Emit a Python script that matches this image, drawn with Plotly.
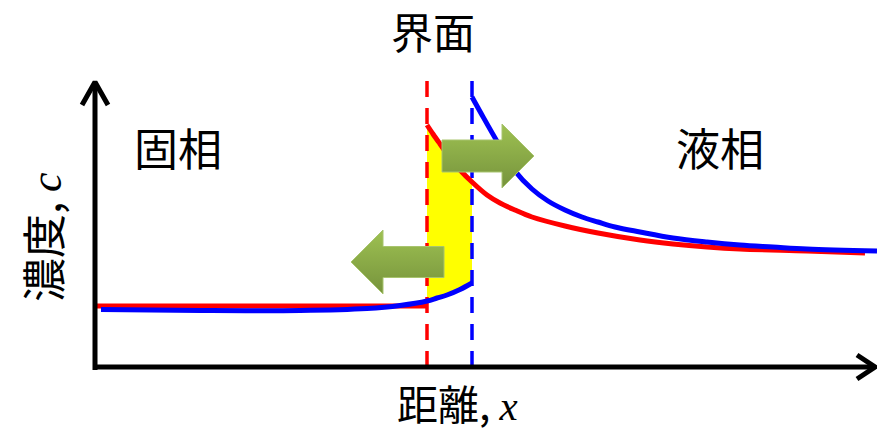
import plotly.graph_objects as go

# distance (x) and concentration (c), arbitrary units; origin = axis corner
red_solid_x = [2, 150, 332]
red_solid_c = [61, 61, 61]

red_liquid_x = [332, 338, 345, 355, 365, 377, 392, 405, 420, 437, 470, 503, 545, 578, 612, 645, 712, 770]
red_liquid_c = [242, 233, 223, 209, 197, 185, 172, 164, 157, 150, 141, 134, 127, 123, 120, 118, 116, 114]

blue_solid_x = [6, 105, 205, 272, 305, 332, 342, 352, 365, 377]
blue_solid_c = [57.5, 56.5, 56.5, 58.5, 61.5, 66, 69, 72, 77.5, 84]

blue_liquid_x = [377, 387, 403, 420, 437, 453, 470, 487, 503, 520, 545, 578, 612, 645, 678, 712, 782]
blue_liquid_c = [270, 252, 224, 196, 178, 166, 157, 150, 145, 140, 135, 129, 125, 122, 120, 118, 116]

red_interface_x = 332
blue_interface_x = 377

X_MAX = 780
C_MAX = 285
DASH_TOP = 287

RED = "#FF0000"
BLUE = "#0000FF"
CJK = "Noto Sans CJK JP"


def block_arrow(x_tail, x_tip, c_mid, body_h, head_h, head_len):
    # outline of a fat horizontal arrow; works for both directions
    s = 1 if x_tip > x_tail else -1
    x_neck = x_tip - s * head_len
    xs = [x_tail, x_neck, x_neck, x_tip, x_neck, x_neck, x_tail, x_tail]
    cs = [c_mid + body_h / 2, c_mid + body_h / 2, c_mid + head_h / 2, c_mid,
          c_mid - head_h / 2, c_mid - body_h / 2, c_mid - body_h / 2, c_mid + body_h / 2]
    return xs, cs


fig = go.Figure()

# yellow area between the two curves inside the interface band
top = [(x, c) for x, c in zip(red_liquid_x, red_liquid_c) if x <= blue_interface_x]
bot = [(x, c) for x, c in zip(blue_solid_x, blue_solid_c) if x >= red_interface_x]
poly = top + bot[::-1] + top[:1]
fig.add_scatter(
    x=[p[0] for p in poly], y=[p[1] for p in poly],
    mode="lines", fill="toself", fillcolor="#FFFF00",
    line=dict(width=0, color="#FFFF00"), showlegend=False,
)

# interface lines
for xi, col in [(red_interface_x, RED), (blue_interface_x, BLUE)]:
    fig.add_scatter(
        x=[xi, xi], y=[0, DASH_TOP], mode="lines",
        line=dict(color=col, width=3.5, dash="16px,11px"), showlegend=False,
    )

# concentration profiles
for xs, cs, col in [
    (red_solid_x, red_solid_c, RED),
    (blue_solid_x, blue_solid_c, BLUE),
    (red_liquid_x, red_liquid_c, RED),
    (blue_liquid_x, blue_liquid_c, BLUE),
]:
    fig.add_scatter(
        x=xs, y=cs, mode="lines", line=dict(color=col, width=5),
        line_shape="spline", showlegend=False,
    )

# axes with open arrowheads
fig.add_scatter(x=[0, 0], y=[-3, C_MAX], mode="lines",
                line=dict(color="black", width=5), showlegend=False)
fig.add_scatter(x=[-13, 0, 13], y=[C_MAX - 23, C_MAX, C_MAX - 23], mode="lines",
                line=dict(color="black", width=5), showlegend=False)
fig.add_scatter(x=[-2, X_MAX], y=[0, 0], mode="lines",
                line=dict(color="black", width=5), showlegend=False)
fig.add_scatter(x=[X_MAX - 18, X_MAX, X_MAX - 18], y=[12, 0, -12], mode="lines",
                line=dict(color="black", width=5), showlegend=False)

# green flux arrows
for args in [(349, 256, 105, 31, 64, 32), (347, 439, 211, 32, 64, 32)]:
    xs, cs = block_arrow(*args)
    fig.add_scatter(
        x=xs, y=cs, mode="lines", fill="toself",
        fillgradient=dict(type="vertical",
                          colorscale=[[0, "#76933C"], [1, "#9EC152"]]),
        line=dict(color="#A8C46E", width=1), showlegend=False,
    )

serif = "font-family:'Liberation Serif';font-style:italic"
labels = [
    ("界面", 338, 337, 0, 42),
    ("固相", 83, 220, 0, 44),
    ("液相", 625, 220, 0, 44),
    (f"距離, <span style=\"{serif}\">x</span>", 362, -35, 0, 41),
    (f"濃度, <span style=\"{serif}\">c</span>", -53, 130, -90, 44),
]
for text, x, y, ang, size in labels:
    fig.add_annotation(
        x=x, y=y, text=text, showarrow=False, textangle=ang,
        font=dict(family=CJK, size=size, color="black"),
        xanchor="center", yanchor="middle", borderpad=0,
    )

fig.update_layout(
    width=877, height=432,
    margin=dict(l=0, r=0, t=0, b=0),
    paper_bgcolor="white", plot_bgcolor="white",
    xaxis=dict(range=[-95, 782], visible=False, fixedrange=True),
    yaxis=dict(range=[-65, 367], visible=False, fixedrange=True),
)

fig.write_html(
    "out.html",
    config={"displayModeBar": False},
    post_script="document.body.style.margin='0px';",
)
